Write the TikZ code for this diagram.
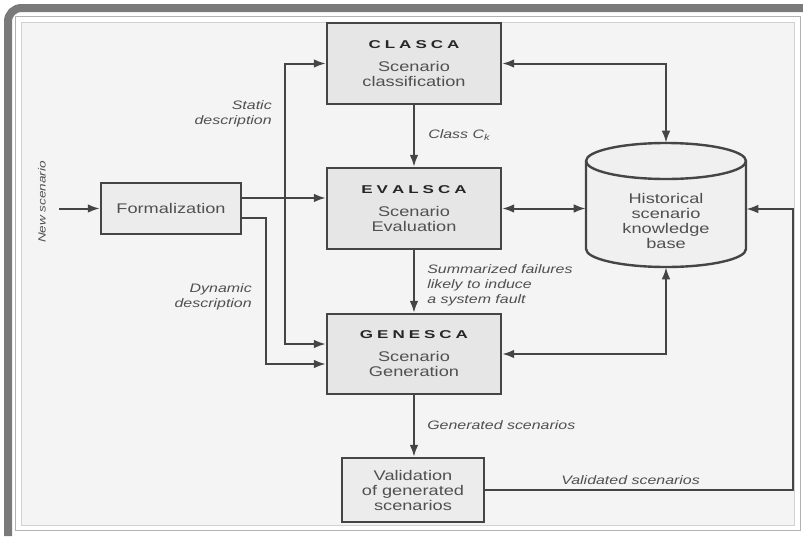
\documentclass[tikz,border=0pt]{standalone}
\usepackage{fontspec}
\setmainfont{Liberation Sans}[FakeStretch=1.3]
\newfontfamily\ttlfont{Liberation Sans}[FakeStretch=1.5]
\usetikzlibrary{arrows.meta,calc}
\definecolor{ln}{HTML}{454545}
\definecolor{txt}{HTML}{505050}
\definecolor{ttlc}{HTML}{262626}
\definecolor{boxfill}{HTML}{E6E6E6}
\definecolor{formfill}{HTML}{ECECEC}
\definecolor{panel}{HTML}{F4F4F4}
\definecolor{shadow}{HTML}{7A7A7A}
\newcommand\kk{\kern3pt}
\newcommand\ttl[1]{{\ttlfont\bfseries\fontsize{8.5}{10}\selectfont\color{ttlc}#1}}
\begin{document}
\begin{tikzpicture}[x=0.75pt,y=-0.75pt,
  box/.style={draw=ln, line width=1.8pt, fill=boxfill, align=center, inner sep=0pt,
    font=\fontsize{10.5}{11.25}\selectfont, text=txt},
  conn/.style={draw=ln, line width=1.5pt, -{Latex[length=9pt,width=6.5pt]}},
  conntwo/.style={draw=ln, line width=1.5pt, {Latex[length=9pt,width=6.5pt]}-{Latex[length=9pt,width=6.5pt]}},
  lbl/.style={font=\itshape\fontsize{9.2}{11.25}\selectfont, text=txt, inner sep=0pt},
]
\useasboundingbox (0,0) rectangle (803,536);
% frame
\fill[white] (0,0) rectangle (803,536);
\draw[shadow, line width=6pt, rounded corners=10pt] (8,536) -- (8,8) -- (803,8);
\draw[fill=white, draw=gray!60, line width=0.6pt] (15,16) rectangle (800,530);
\draw[fill=panel, draw=gray!35, line width=0.6pt] (21,22) rectangle (794,525);

% boxes
\node[box, minimum width=130.5pt, minimum height=60.75pt] (clasca) at (414,63.5)
  {\ttl{C\kk L\kk A\kk S\kk C\kk A}\\[6pt]Scenario\\classification};
\node[box, minimum width=130.5pt, minimum height=60.75pt] (eval) at (414,208.5)
  {\ttl{E\kk V\kk A\kk L\kk S\kk C\kk A}\\[6pt]Scenario\\Evaluation};
\node[box, minimum width=130.5pt, minimum height=60pt] (gen) at (414,354)
  {\ttl{G\kk E\kk N\kk E\kk S\kk C\kk A}\\[6pt]Scenario\\Generation};
\node[box, fill=formfill, minimum width=105pt, minimum height=38.25pt] (form) at (171,208.5)
  {Formalization};
\node[box, fill=formfill, minimum width=106.5pt, minimum height=48pt] (val) at (413,490)
  {Validation\\of generated\\scenarios};

% knowledge base cylinder
\node[draw=none, minimum width=120pt, minimum height=93pt, inner sep=0pt] (kb) at (666,205) {};
\draw[ln, line width=1.8pt, fill=formfill!50!panel] (586,161) -- (586,249)
  arc[start angle=180, end angle=0, x radius=80, y radius=18] -- (746,161)
  arc[start angle=0, end angle=-180, x radius=80, y radius=18] -- cycle;
\draw[ln, line width=1.8pt] (586,161) arc[start angle=180, end angle=0, x radius=80, y radius=18];
\node[align=center, inner sep=0pt, font=\fontsize{10.5}{11.25}\selectfont, text=txt] (kbt) at (666,220.5)
  {Historical\\scenario\\knowledge\\base};

% coordinates
\coordinate (ns) at (59,208.5);
\coordinate (f1) at ([yshift=7.9pt]form.east);
\coordinate (f2) at ([yshift=-7.1pt]form.east);
\coordinate (jn) at ($(f1)+(43,0)$);
\coordinate (dv) at ($(f2)+(24,0)$);
\coordinate (g1) at ([yshift=7.5pt]gen.west);
\coordinate (g2) at ([yshift=-7.5pt]gen.west);
\coordinate (rv) at (793,490);

% connectors
\draw[conn] (ns) -- (form.west);
\draw[conn] (f1) -- (f1 -| eval.west);
\draw[conn] (jn) |- (clasca.west);
\draw[conn] (jn) |- (g1);
\draw[conn] (f2) -| (dv) |- (g2);
\draw[conn] (clasca.south) -- (eval.north);
\draw[conn] (eval.south) -- (gen.north);
\draw[conn] (gen.south) -- (gen.south |- val.north);
\draw[conntwo] (clasca.east) -| (kb.north);
\draw[conntwo] (eval.east) -- (eval.east -| kb.west);
\draw[conntwo] (gen.east) -| (kb.south);
\draw[conn] (val.east) -- (rv) |- ([yshift=-3pt]kb.east);

% labels
\node[lbl, rotate=90] (lns) at (42,202) {\fontsize{7.8}{9}\selectfont New scenario};
\node[lbl, align=right, anchor=east] (lst) at (272,113.5) {Static\\description};
\node[lbl, anchor=west] (lcl) at (428,135) {Class C\textsubscript{\itshape k}};
\node[lbl, align=right, anchor=east] (ldy) at (252,297) {Dynamic\\description};
\node[lbl, align=left, anchor=west] (lsu) at (427,285) {Summarized failures\\likely to induce\\a system fault};
\node[lbl, anchor=west] (lge) at (427,425) {Generated scenarios};
\node[lbl, anchor=west] (lva) at (561,480) {Validated scenarios};
\end{tikzpicture}
\end{document}
